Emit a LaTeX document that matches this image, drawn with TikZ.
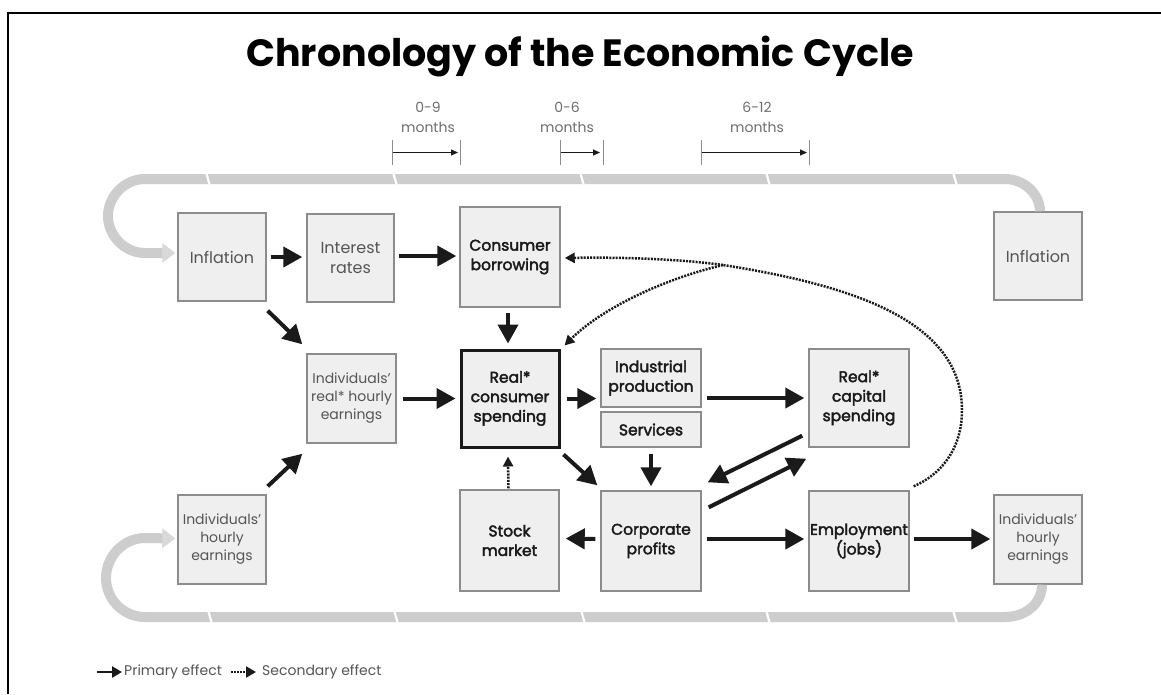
\documentclass[tikz,border=0pt]{standalone}
\usepackage{fontspec}
\setmainfont{Poppins}
\newfontfamily\darkf[FakeBold=2.5]{Poppins}
\usetikzlibrary{arrows.meta,calc}
\definecolor{boxfill}{HTML}{EFEFEF}
\definecolor{boxline}{HTML}{8C8C8C}
\definecolor{bandc}{HTML}{CDCDCD}
\definecolor{bandtip}{HTML}{D9D9D9}
\definecolor{txtgray}{HTML}{555555}
\definecolor{txtdark}{HTML}{1A1A1A}
\definecolor{lightgray}{HTML}{6E6E6E}
\begin{document}
\begin{tikzpicture}[x=1pt,y=-1pt,
  box/.style={draw=boxline, line width=1.4pt, fill=boxfill, inner sep=0pt, align=center,
    font=\fontsize{16}{19.5}\selectfont, text=txtgray},
  dbox/.style={box, font=\darkf\fontsize{15.5}{19.5}\selectfont, text=txtdark},
  smallbox/.style={box, font=\fontsize{14}{18}\selectfont},
  prim/.style={draw=txtdark, line width=4pt, -{Triangle[length=19pt,width=20pt]}},
  sec/.style={draw=txtdark, line width=2.5pt, dash pattern=on 2pt off 1.2pt, -{Triangle[length=10pt,width=10pt]}},
  secline/.style={draw=txtdark, line width=2.5pt, dash pattern=on 2pt off 1.2pt},
  bandline/.style={draw=bandc, line width=10pt},
  bandarrow/.style={bandline, -{Triangle[length=13pt,width=19pt,color=bandtip]}},
  gap/.style={draw=white, line width=2.2pt},
  tickl/.style={draw=boxline, line width=1pt},
  tarrow/.style={draw=txtdark, line width=0.9pt, -{Triangle[length=7pt,width=6pt]}},
  tlabel/.style={align=center, text=lightgray, font=\fontsize{14}{20}\selectfont},
  legtxt/.style={anchor=west, text=txtgray, font=\fontsize{14}{16}\selectfont, inner sep=0pt}
]
\useasboundingbox (0,0) rectangle (1161,694);
\fill[white] (0,0) rectangle (1161,694);
% frame
\draw[line width=2.6pt] (8,694) -- (8,13) -- (1161,13);
% title
\node (title) at (580,57) {\fontsize{38}{44}\selectfont\bfseries Chronology of the Economic Cycle};

% time scale
\node[tlabel] (tl1) at (428,117) {0-9\\months};
\node[tlabel] (tl2) at (567,117) {0-6\\months};
\node[tlabel] (tl3) at (757,117) {6-12\\months};
\coordinate (a1) at (392,140); \coordinate (a2) at (392,165);
\coordinate (b1) at (460,140); \coordinate (b2) at (460,165);
\coordinate (c1) at (560,140); \coordinate (c2) at (560,165);
\coordinate (d1) at (603,140); \coordinate (d2) at (603,165);
\coordinate (e1) at (701,140); \coordinate (e2) at (701,165);
\coordinate (f1) at (809,140); \coordinate (f2) at (809,165);
\foreach \p in {a,b,c,d,e,f} {\draw[tickl] (\p1) -- (\p2);}
\draw[tarrow] ($(a1)!0.5!(a2)+(1,0)$) -- ($(b1)!0.5!(b2)+(-2,0)$);
\draw[tarrow] ($(c1)!0.5!(c2)+(1,0)$) -- ($(d1)!0.5!(d2)+(-3,0)$);
\draw[tarrow] ($(e1)!0.5!(e2)+(1,0)$) -- ($(f1)!0.5!(f2)+(-2,0)$);

% boxes
\node[box, minimum width=88pt, minimum height=88pt] (infL) at (222,257) {Inflation};
\node[box, minimum width=87pt, minimum height=88pt] (intr) at (350.5,258) {Interest\\rates};
\node[dbox, minimum width=100pt, minimum height=100pt] (cbor) at (510,257) {Consumer\\borrowing};
\node[box, minimum width=88pt, minimum height=88pt] (infR) at (1038,256) {Inflation};
\node[smallbox, minimum width=89pt, minimum height=89pt] (ireal) at (351.5,398.5) {Individuals'\\real* hourly\\earnings};
\node[dbox, draw=txtdark, line width=3pt, minimum width=98pt, minimum height=97pt] (rcs) at (510,398.5) {Real*\\consumer\\spending};
\node[dbox, minimum width=100pt, minimum height=58pt] (ind) at (651,378) {Industrial\\production};
\node[dbox, minimum width=100pt, minimum height=35pt] (serv) at (651,429.5) {Services};
\node[dbox, minimum width=100pt, minimum height=98pt] (rcap) at (859,398) {Real*\\capital\\spending};
\node[smallbox, minimum width=88pt, minimum height=89pt] (ihL) at (222,539.5) {Individuals'\\hourly\\earnings};
\node[dbox, minimum width=99pt, minimum height=101pt] (stock) at (509.5,540.5) {Stock\\market};
\node[dbox, minimum width=100pt, minimum height=100pt] (corp) at (651,541) {Corporate\\profits};
\node[dbox, minimum width=100pt, minimum height=100pt] (emp) at (859,541) {Employment\\(jobs)};
\node[smallbox, minimum width=88pt, minimum height=89pt] (ihR) at (1038,539.5) {Individuals'\\hourly\\earnings};

% gray cycle bands
\draw[bandarrow] ($(infR.north)+(2,0)$) .. controls (1040,194) and (1024,179) .. (1005,179)
   -- (145,179) .. controls (125,179) and (108,196) .. (108,216)
   .. controls (108,236) and (125,253) .. (145,253) -- ($(infL.west)+(-2,-4)$);
\draw[bandarrow] ($(ihR.south)+(4,0)$) .. controls (1042,604) and (1025,617) .. (1005,617)
   -- (145,617) .. controls (123,617) and (106,599) .. (106,578)
   .. controls (106,557) and (123,538) .. (145,538) -- ($(ihL.west)+(-2,-1)$);
\foreach \x in {208,395,582,768,955} {\draw[gap] (\x-2,172) -- (\x+2,186);}
\foreach \x in {210,396,583,768,955} {\draw[gap] (\x-2,610) -- (\x+2,624);}

% primary effects
\draw[prim] ($(infL.east)+(4,0)$) -- ($(intr.west |- infL.east)+(-4,0)$);
\draw[prim] ($(intr.east)+(4,-2)$) -- ($(cbor.west |- intr.east)+(-3,-2)$);
\draw[prim] ($(infL.south east)+(1,9)$) -- ($(ireal.north west)+(-4,-9)$);
\draw[prim] ($(ihL.north east)+(1,-8)$) -- ($(ireal.south west)+(-4,10)$);
\draw[prim] ($(ireal.east)+(6,0)$) -- ($(rcs.west)+(-4,0)$);
\draw[prim] ($(cbor.south)+(-2,5)$) -- ($(rcs.north)+(-2,-5)$);
\draw[prim] ($(rcs.east)+(6,0)$) -- ($(ind.west |- rcs.east)+(-4,0)$);
\draw[prim] ($(rcs.south east)+(3,6)$) -- ($(corp.north west)+(-3,-5)$);
\draw[prim] ($(ind.east |- rcap.west)+(5,0)$) -- ($(rcap.west)+(-4,0)$);
\draw[prim] ($(serv.south)+(0,6)$) -- ($(corp.north)+(0,-4)$);
\draw[prim] ($(rcap.south west)+(-6,-12)$) -- ($(corp.north east)+(6,-8)$);
\draw[prim] ($(corp.north east)+(7,17)$) -- ($(rcap.south west)+(-2,11)$);
\draw[prim] ($(corp.west)+(-5,-2)$) -- ($(stock.east)+(6,-2)$);
\draw[prim] ($(corp.east)+(5,-2)$) -- ($(emp.west)+(-4,-2)$);
\draw[prim] ($(emp.east)+(4,-2)$) -- ($(ihR.west |- emp.east)+(-3,-2)$);

% secondary effects
\coordinate (br) at (723,265);
\draw[secline] ($(emp.north east)+(4,-4)$) .. controls (940,475) and (962,450) .. (962,410)
   .. controls (962,320) and (850,285) .. (br);
\draw[sec] (br) .. controls (680,259) and (620,257) .. ($(cbor.east)+(4,1)$);
\draw[sec] (br) .. controls (660,280) and (600,310) .. ($(rcs.north east)+(4,-3)$);
\draw[sec] ($(stock.north)+(-1,-1)$) -- ($(rcs.south)+(-2,8)$);

% legend
\coordinate (lp1) at (97,672); \coordinate (lp2) at (122,672);
\coordinate (ls1) at (231,672); \coordinate (ls2) at (256,672);
\draw[draw=txtdark, line width=2.8pt, -{Triangle[length=10pt,width=11pt]}] (lp1) -- (lp2);
\node[legtxt] (lprim) at (124,672) {Primary effect};
\draw[draw=txtdark, line width=2.2pt, dash pattern=on 1.8pt off 1.3pt, -{Triangle[length=10pt,width=11pt]}] (ls1) -- (ls2);
\node[legtxt] (lsec) at (262,672) {Secondary effect};
\end{tikzpicture}
\end{document}
